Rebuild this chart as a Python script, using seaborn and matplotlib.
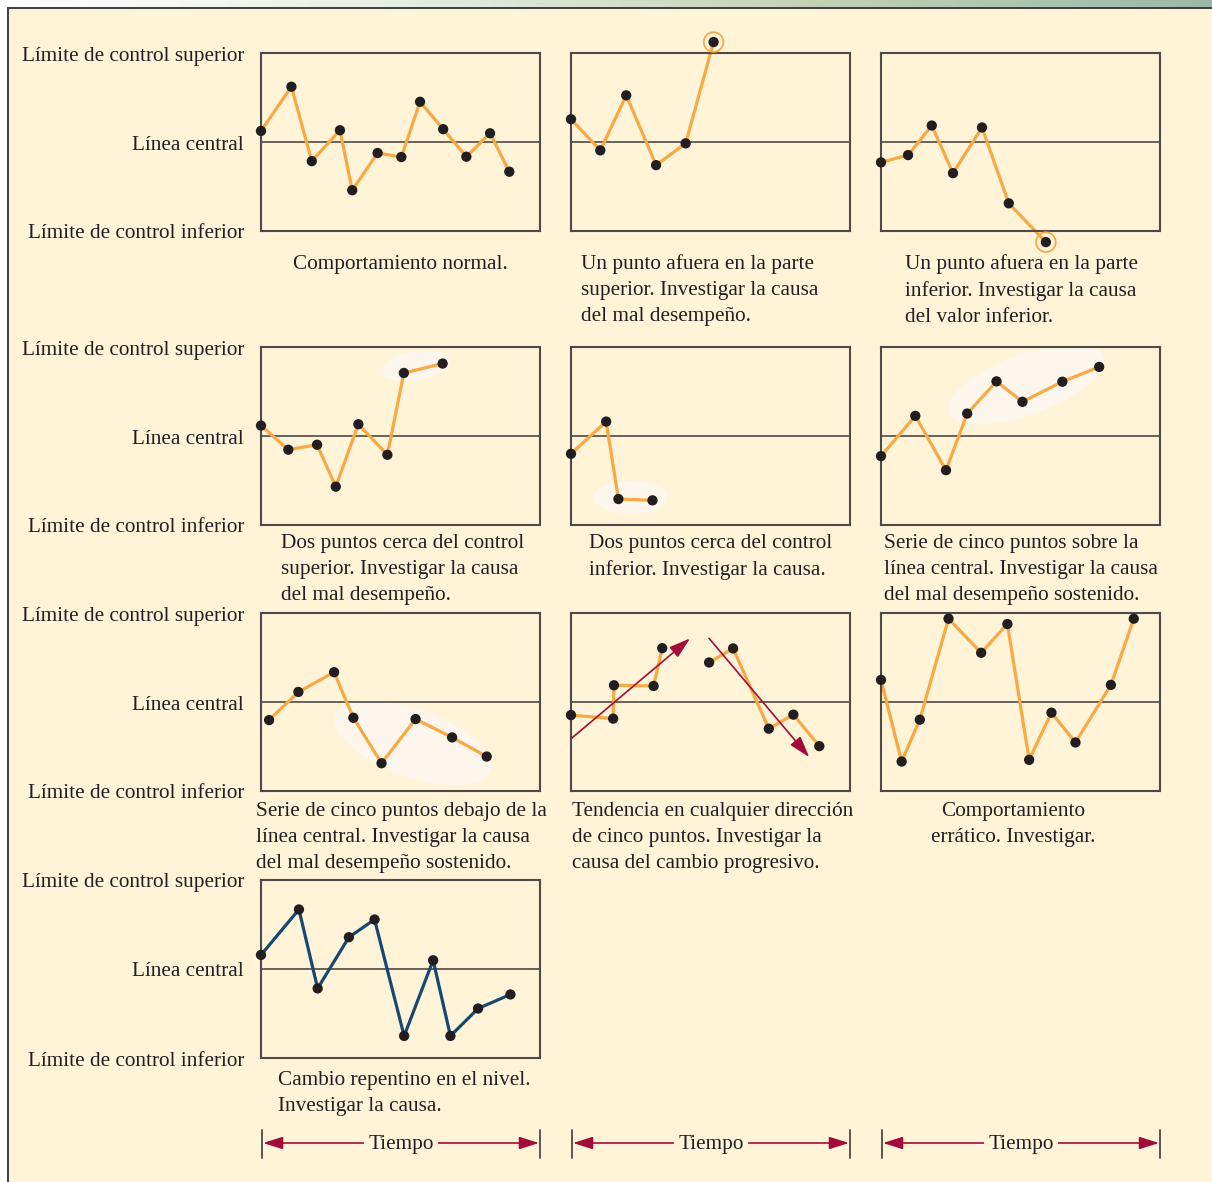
import numpy as np
import pandas as pd
import matplotlib
matplotlib.use("Agg")
import matplotlib.pyplot as plt
import matplotlib.transforms as mtransforms
from matplotlib.patches import Ellipse, Rectangle
import seaborn as sns

# -----------------------------
# Data: x = position along the time axis (0..1 of panel width)
#       y = value relative to limits (+1 = LCS, 0 = central, -1 = LCI)
# -----------------------------
t_normal = [0.0, 0.109, 0.182, 0.283, 0.327, 0.418, 0.503, 0.570, 0.653, 0.736, 0.821, 0.890]
y_normal = [0.124, 0.621, -0.215, 0.132, -0.542, -0.124, -0.169, 0.452, 0.144, -0.165, 0.098, -0.334]

t_alto = [0.0, 0.105, 0.198, 0.305, 0.411, 0.511]
y_alto = [0.256, -0.094, 0.524, -0.260, -0.015, 1.123]

t_bajo = [0.0, 0.097, 0.182, 0.258, 0.362, 0.458, 0.591]
y_bajo = [-0.229, -0.147, 0.185, -0.350, 0.163, -0.689, -1.125]

t_dos_sup = [0.0, 0.098, 0.201, 0.268, 0.349, 0.453, 0.512, 0.651]
y_dos_sup = [0.117, -0.154, -0.098, -0.569, 0.132, -0.211, 0.708, 0.814]

t_dos_inf = [0.0, 0.126, 0.170, 0.292]
y_dos_inf = [-0.200, 0.162, -0.708, -0.723]

t_sobre = [0.0, 0.123, 0.233, 0.309, 0.414, 0.507, 0.650, 0.782]
y_sobre = [-0.226, 0.226, -0.384, 0.252, 0.614, 0.384, 0.610, 0.776]

t_debajo = [0.029, 0.134, 0.262, 0.331, 0.432, 0.554, 0.685, 0.809]
y_debajo = [-0.203, 0.113, 0.335, -0.177, -0.688, -0.192, -0.398, -0.613]

t_tend = [0.0, 0.151, 0.154, 0.296, 0.327, 0.495, 0.581, 0.709, 0.797, 0.890]
y_tend = [-0.147, -0.187, 0.188, 0.180, 0.605, 0.444, 0.602, -0.300, -0.142, -0.496]
seg_tend = [1, 1, 1, 1, 1, 2, 2, 2, 2, 2]

t_erratico = [0.0, 0.074, 0.139, 0.242, 0.359, 0.453, 0.531, 0.611, 0.697, 0.824, 0.906]
y_erratico = [0.248, -0.669, -0.199, 0.936, 0.553, 0.876, -0.650, -0.120, -0.455, 0.192, 0.936]

t_cambio = [0.0, 0.136, 0.203, 0.315, 0.407, 0.513, 0.617, 0.679, 0.778, 0.894]
y_cambio = [0.158, 0.669, -0.218, 0.357, 0.556, -0.752, 0.098, -0.752, -0.444, -0.286]

etiquetas = ["Límite de control superior", "Línea central", "Límite de control inferior"]

captions = [
    "Comportamiento normal.",
    "Un punto afuera en la parte\nsuperior. Investigar la causa\ndel mal desempeño.",
    "Un punto afuera en la parte\ninferior. Investigar la causa\ndel valor inferior.",
    "Dos puntos cerca del control\nsuperior. Investigar la causa\ndel mal desempeño.",
    "Dos puntos cerca del control\ninferior. Investigar la causa.",
    "Serie de cinco puntos sobre la\nlínea central. Investigar la causa\ndel mal desempeño sostenido.",
    "Serie de cinco puntos debajo de la\nlínea central. Investigar la causa\ndel mal desempeño sostenido.",
    "Tendencia en cualquier dirección\nde cinco puntos. Investigar la\ncausa del cambio progresivo.",
    "Comportamiento\nerrático. Investigar.",
    "Cambio repentino en el nivel.\nInvestigar la causa.",
]

# -----------------------------
# Style
# -----------------------------
sns.set_style("white")
plt.rcParams['font.family'] = ['Liberation Serif', 'DejaVu Serif']

W, H = 1212, 1182
CREAM = '#FFF4D8'
ORANGE = '#F9A944'
NAVY = '#174872'
DOT = '#221E1F'
RED = '#A20C3A'
EDGE = '#4F4A45'
FS = 15.3

fig = plt.figure(figsize=(W / 100, H / 100), dpi=100)
fig.patch.set_facecolor('white')

# overlay in pixel coords for the frame, labels and captions
over = fig.add_axes([0, 0, 1, 1], zorder=-5)
over.set_xlim(0, W)
over.set_ylim(H, 0)
over.axis('off')

# top gradient band
grad = np.linspace(0, 1, 256).reshape(1, -1)
cmap = matplotlib.colors.LinearSegmentedColormap.from_list(
    'band', ['#FFFFFF', '#E6EDE2', '#C2D3B6', '#9DB8A8'])
over.imshow(grad, extent=[0, W, 8, 0], aspect='auto', cmap=cmap, zorder=0)
over.add_patch(Rectangle((8, 8), W, H, facecolor=CREAM, edgecolor='none', zorder=1))
over.plot([8, W], [8, 8], color='#3D3D3D', lw=1.4, zorder=2)
over.plot([8, 8], [8, H], color='#3D3D3D', lw=1.4, zorder=2)

col_x = [261, 571, 881]
row_y = [53, 347, 613, 880]
PW, PH = 279, 178


def panel_ax(r, c):
    x0, y0 = col_x[c], row_y[r]
    ax = fig.add_axes([x0 / W, 1 - (y0 + PH) / H, PW / W, PH / H])
    ax.set_xlim(0, 1)
    ax.set_ylim(-1, 1)
    ax.set_facecolor(CREAM)
    ax.set_xticks([])
    ax.set_yticks([])
    for s in ax.spines.values():
        s.set_color(EDGE)
        s.set_linewidth(1.5)
    ax.axhline(0, color='#3E3A36', lw=1.1, zorder=1)
    return ax


def halo(ax, cx, cy, w_px, h_px, ang):
    tr = fig.dpi_scale_trans + mtransforms.ScaledTranslation(cx, cy, ax.transData)
    ax.add_patch(Ellipse((0, 0), w_px / 100, h_px / 100, angle=ang, transform=tr,
                         facecolor='#FDF6EC', edgecolor='none', zorder=0.5))


def serie(ax, t, y, color=ORANGE, units=None):
    df = pd.DataFrame({'t': t, 'y': y})
    if units is not None:
        df['u'] = units
        sns.lineplot(data=df, x='t', y='y', units='u', estimator=None, sort=False,
                     color=color, lw=2.3, ax=ax, clip_on=False, zorder=2)
    else:
        sns.lineplot(data=df, x='t', y='y', estimator=None, sort=False,
                     color=color, lw=2.3, ax=ax, clip_on=False, zorder=2)
    sns.scatterplot(data=df, x='t', y='y', s=55, color=DOT, edgecolor='none',
                    ax=ax, clip_on=False, zorder=4)
    ax.set_xlabel('')
    ax.set_ylabel('')


def ring(ax, t, y):
    ax.scatter([t], [y], s=200, facecolor='none', edgecolor=ORANGE, lw=1.3,
               clip_on=False, zorder=3)


# Row 1
ax = panel_ax(0, 0)
serie(ax, t_normal, y_normal)
ax = panel_ax(0, 1)
serie(ax, t_alto, y_alto)
ring(ax, t_alto[-1], y_alto[-1])
ax = panel_ax(0, 2)
serie(ax, t_bajo, y_bajo)
ring(ax, t_bajo[-1], y_bajo[-1])

# Row 2
ax = panel_ax(1, 0)
halo(ax, 0.555, 0.787, 70, 29, 10)
serie(ax, t_dos_sup, y_dos_sup)
ax = panel_ax(1, 1)
halo(ax, 0.214, -0.689, 74, 33, 0)
serie(ax, t_dos_inf, y_dos_inf)
ax = panel_ax(1, 2)
halo(ax, 0.52, 0.58, 165, 60, 20)
serie(ax, t_sobre, y_sobre)

# Row 3
ax = panel_ax(2, 0)
halo(ax, 0.544, -0.459, 165, 68, -20)
serie(ax, t_debajo, y_debajo)
ax = panel_ax(2, 1)
serie(ax, t_tend, y_tend, units=seg_tend)
trend_style = '-|>,head_length=1.3,head_width=0.4'
ax.annotate('', xy=(0.427, 0.715), xytext=(0.0, -0.413),
            arrowprops=dict(arrowstyle=trend_style, color=RED,
                            lw=1.2, shrinkA=0, shrinkB=0), zorder=5)
ax.annotate('', xy=(0.854, -0.620), xytext=(0.495, 0.715),
            arrowprops=dict(arrowstyle=trend_style, color=RED,
                            lw=1.2, shrinkA=0, shrinkB=0), zorder=5)
ax = panel_ax(2, 2)
serie(ax, t_erratico, y_erratico)

# Row 4
ax = panel_ax(3, 0)
serie(ax, t_cambio, y_cambio, color=NAVY)

# left labels
for r in range(4):
    for k, lab in enumerate(etiquetas):
        over.text(244, row_y[r] + k * PH / 2 + 3, lab, ha='right', va='center',
                  fontsize=FS, color='#231F20', zorder=3)

# captions: (x, first-line y, alignment)
cap_pos = [(400, 262, 'center'), (581, 261, 'left'), (905, 261, 'left'),
           (281, 541, 'left'), (589, 541, 'left'), (884, 541, 'left'),
           (256, 809, 'left'), (572, 809, 'left'), (1013, 809, 'center'),
           (278, 1078, 'left')]
for (x, y, ha), txt in zip(cap_pos, captions):
    over.text(x, y - 7, txt, ha=ha, va='top', multialignment=ha, fontsize=FS,
              color='#231F20', linespacing=1.49, zorder=3)

# time axis
for c in range(3):
    x0, x1 = col_x[c] + 1, col_x[c] + PW
    over.plot([x0, x0], [1130, 1158], color=EDGE, lw=1.3, zorder=3)
    over.plot([x1, x1], [1130, 1158], color=EDGE, lw=1.3, zorder=3)
    over.annotate('', xy=(x0 + 1, 1143), xytext=(x1 - 1, 1143),
                  arrowprops=dict(arrowstyle='<|-|>,head_length=1.2,head_width=0.38',
                                  color=RED, lw=1.2, shrinkA=0, shrinkB=0), zorder=3)
    over.text((x0 + x1) / 2, 1145, 'Tiempo', ha='center', va='center', fontsize=FS,
              color='#231F20', zorder=4,
              bbox=dict(boxstyle='square,pad=0.2', facecolor=CREAM, edgecolor='none'))

fig.savefig('out.png', dpi=100, facecolor=fig.get_facecolor())
